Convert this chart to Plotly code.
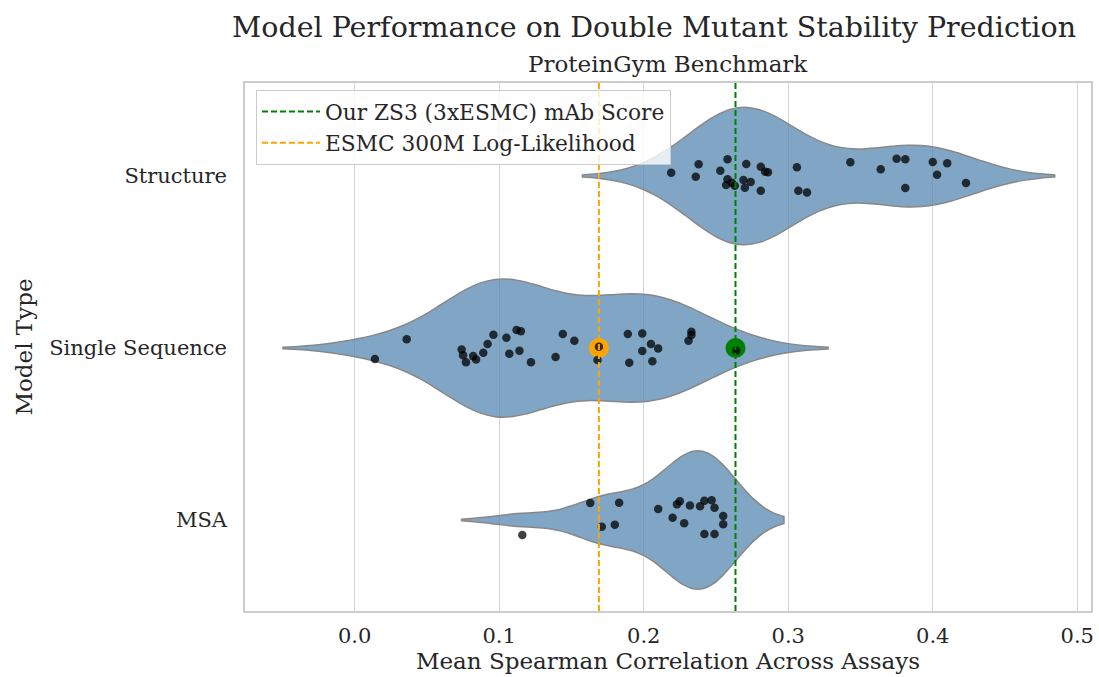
import numpy as np
import plotly.graph_objects as go

categories = ["Structure", "Single Sequence", "MSA"]
cat_pos = [0, 1, 2]

structure_vals = [0.219, 0.238, 0.236, 0.258, 0.253, 0.258, 0.257, 0.261, 0.263, 0.271,
                  0.269, 0.270, 0.274, 0.281, 0.281, 0.284, 0.286, 0.306, 0.307, 0.313,
                  0.343, 0.364, 0.375, 0.381, 0.381, 0.400, 0.410, 0.403, 0.423]
structure_jit = [-0.019, -0.068, 0.004, -0.097, -0.031, 0.019, 0.052, 0.039, 0.056, -0.070,
                 0.023, 0.068, 0.035, 0.085, -0.054, -0.025, -0.022, -0.051, 0.085, 0.095,
                 -0.080, -0.039, -0.101, -0.097, 0.070, -0.081, -0.074, -0.008, 0.041]

single_vals = [0.014, 0.036, 0.074, 0.075, 0.077, 0.082, 0.084, 0.089, 0.092, 0.096,
               0.105, 0.107, 0.112, 0.115, 0.114, 0.122, 0.139, 0.144, 0.152, 0.168,
               0.169, 0.189, 0.190, 0.199, 0.199, 0.205, 0.206, 0.210, 0.231, 0.233,
               0.233, 0.264]
single_jit = [0.064, -0.051, 0.008, 0.042, 0.083, 0.047, 0.066, 0.027, -0.023, -0.077,
              -0.060, 0.033, -0.105, -0.097, 0.016, 0.083, 0.052, -0.081, -0.042, 0.070,
              -0.008, -0.081, 0.085, -0.085, 0.017, -0.023, 0.077, 0.002, -0.042, -0.095,
              -0.076, 0.016]

msa_vals = [0.116, 0.163, 0.171, 0.180, 0.183, 0.210, 0.220, 0.223, 0.225, 0.228,
            0.232, 0.239, 0.242, 0.247, 0.249, 0.255, 0.255, 0.242, 0.249]
msa_jit = [0.087, -0.099, 0.039, 0.027, -0.101, -0.064, -0.013, -0.091, -0.109, 0.019,
           -0.085, -0.080, -0.112, -0.115, -0.072, -0.023, 0.025, 0.081, 0.081]

zs3_score = 0.2635
esmc_score = 0.169

x_ticks = [0.0, 0.1, 0.2, 0.3, 0.4, 0.5]
x_tick_labels = ["0.0", "0.1", "0.2", "0.3", "0.4", "0.5"]

FONT = "DejaVu Serif"
TXT = "#262626"
DASH = "6px,3px"

groups = [structure_vals, single_vals, msa_vals]
jits = [structure_jit, single_jit, msa_jit]

fig = go.Figure()

for name, pos, vals in zip(categories, cat_pos, groups):
    arr = np.asarray(vals)
    bw = arr.std(ddof=1) * len(arr) ** (-0.2)
    fig.add_trace(go.Violin(
        x=arr, y0=pos, orientation="h", name=name, side="both",
        width=0.8, scalegroup="all", scalemode="width",
        bandwidth=bw, spanmode="soft", points=False,
        box_visible=False, meanline_visible=False,
        fillcolor="rgba(76,128,173,0.7)", line=dict(color="#888888", width=1.5),
        showlegend=False, hoveron="violins",
    ))

# highlighted markers
fig.add_trace(go.Scatter(x=[esmc_score], y=[cat_pos[1]], mode="markers",
                         marker=dict(color="orange", size=20, line=dict(width=0)), showlegend=False))
fig.add_trace(go.Scatter(x=[zs3_score], y=[cat_pos[1]], mode="markers",
                         marker=dict(color="green", size=20, line=dict(width=0)), showlegend=False))

for pos, vals, jit in zip(cat_pos, groups, jits):
    fig.add_trace(go.Scatter(
        x=vals, y=[pos + j for j in jit], mode="markers",
        marker=dict(color="rgba(0,0,0,0.75)", size=8.5, line=dict(width=0)),
        showlegend=False, hoverinfo="x",
    ))

fig.add_vline(x=zs3_score, line=dict(color="green", width=2, dash=DASH))
fig.add_vline(x=esmc_score, line=dict(color="orange", width=2, dash=DASH))

fig.add_trace(go.Scatter(x=[None], y=[None], mode="lines", name="Our ZS3 (3xESMC) mAb Score",
                         line=dict(color="green", width=2, dash=DASH)))
fig.add_trace(go.Scatter(x=[None], y=[None], mode="lines", name="ESMC 300M Log-Likelihood",
                         line=dict(color="orange", width=2, dash=DASH)))

fig.update_layout(
    width=1099, height=677,
    margin=dict(l=245, r=5, t=83, b=66),
    paper_bgcolor="white", plot_bgcolor="white",
    font=dict(family=FONT, color=TXT, size=21),
    title=dict(text="Model Performance on Double Mutant Stability Prediction",
               x=0.4835, xanchor="center", xref="paper", y=1 - 27 / 677, yanchor="middle",
               yref="container", font=dict(size=28.5, family=FONT, color=TXT)),
    showlegend=True,
    legend=dict(x=0.013, y=0.987, xanchor="left", yanchor="top",
                bgcolor="rgba(255,255,255,0.8)", bordercolor="#cccccc", borderwidth=1,
                itemwidth=58,
                font=dict(size=21.7, family=FONT, color=TXT), tracegroupgap=0),
)

fig.add_annotation(text="ProteinGym Benchmark", x=0.5, xref="paper", xanchor="center",
                   y=1.0, yref="paper", yanchor="middle", yshift=19, showarrow=False,
                   font=dict(size=23, family=FONT, color=TXT))

fig.update_xaxes(
    range=[-0.0759, 0.5095], tickvals=x_ticks, ticktext=x_tick_labels,
    showgrid=True, gridcolor="#d5d5d5", gridwidth=1, zeroline=False,
    showline=True, linecolor="#cccccc", linewidth=1.5, mirror=True,
    ticks="", tickfont=dict(size=21, color=TXT), ticklabelstandoff=5,
    title=dict(text="Mean Spearman Correlation Across Assays", font=dict(size=23, color=TXT), standoff=4),
)
fig.update_yaxes(
    range=[2.529, -0.541], tickvals=cat_pos, ticktext=categories,
    showgrid=False, zeroline=False,
    showline=True, linecolor="#cccccc", linewidth=1.5, mirror=True,
    ticks="", tickfont=dict(size=21, color=TXT), ticklabelstandoff=12,
    title=dict(text="Model Type", font=dict(size=23, color=TXT), standoff=10),
)

fig.write_html("out.html")
